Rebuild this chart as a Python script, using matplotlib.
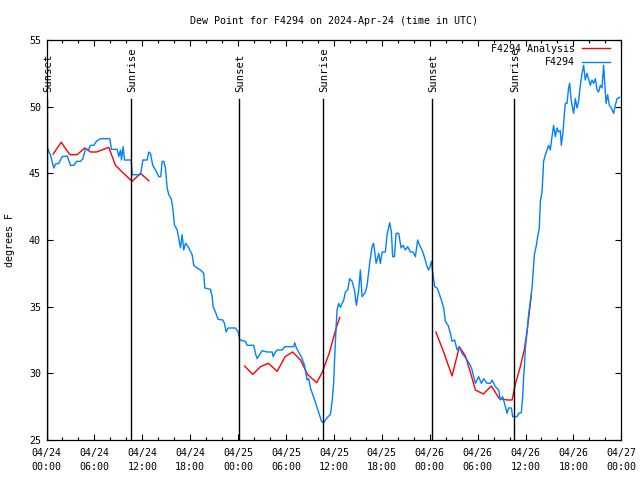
from datetime import datetime, timedelta

import numpy as np
import matplotlib
matplotlib.use("Agg")
import matplotlib.pyplot as plt
import matplotlib.transforms as mtransforms


START = datetime(2024, 4, 24)

# station observations, hours since 2024-04-24 00:00 UTC
obs_hours = [
    0.00, 0.38, 0.50, 0.91, 1.13, 1.54, 1.97, 2.59, 3.01, 3.42, 3.76, 4.26, 4.55, 4.88,
    5.30, 5.51, 5.92, 6.26, 6.76, 7.93, 8.14, 8.85, 9.05, 9.27, 9.39, 9.60, 9.77, 10.61,
    10.73, 11.77, 11.98, 12.06, 12.61, 12.81, 13.02, 13.31, 13.65, 14.06, 14.31, 14.49,
    14.69, 14.90, 15.11, 15.32, 15.62, 15.82, 16.03, 16.15, 16.37, 16.57, 16.78, 16.99,
    17.19, 17.41, 17.62, 17.82, 18.24, 18.45, 18.87, 19.28, 19.70, 19.82, 20.54, 20.75,
    20.87, 21.16, 21.50, 22.08, 22.29, 22.50, 22.75, 23.67, 24.01, 24.21, 24.92, 25.13,
    25.96, 26.17, 26.38, 26.80, 27.01, 27.64, 28.26, 28.39, 28.68, 28.89, 29.51, 29.84,
    30.97, 31.09, 31.30, 31.59, 32.02, 32.31, 32.43, 32.64, 32.84, 33.06, 33.35, 33.60,
    33.90, 34.19, 34.44, 34.72, 34.94, 35.27, 35.56, 35.78, 35.98, 36.10, 36.28, 36.40,
    36.60, 36.81, 37.23, 37.44, 37.73, 37.98, 38.28, 38.57, 38.82, 39.11, 39.32, 39.53,
    39.95, 40.16, 40.48, 40.78, 40.98, 41.29, 41.61, 41.82, 42.04, 42.45, 42.66, 42.99,
    43.20, 43.36, 43.58, 43.79, 44.12, 44.42, 44.67, 44.95, 45.24, 45.58, 45.92, 46.21,
    46.49, 46.74, 47.04, 47.33, 47.67, 47.87, 48.08, 48.21, 48.37, 48.62, 48.92, 49.12,
    49.46, 49.75, 49.96, 50.30, 50.59, 50.80, 51.13, 51.43, 51.72, 52.05, 52.38, 52.68,
    53.09, 53.31, 53.72, 54.13, 54.47, 54.76, 55.19, 55.60, 55.81, 56.22, 56.64, 56.85,
    57.14, 57.48, 57.69, 57.89, 58.23, 58.39, 58.94, 59.14, 59.48, 59.64, 59.77, 59.89,
    59.98, 60.19, 60.39, 60.61, 60.82, 60.94, 61.11, 61.36, 61.52, 61.73, 61.86, 62.07,
    62.15, 62.27, 62.49, 62.70, 62.90, 63.11, 63.32, 63.52, 63.74, 63.95, 64.15, 64.36,
    64.49, 64.70, 64.86, 64.99, 65.20, 65.40, 65.53, 65.70, 65.83, 66.03, 66.24, 66.45,
    66.65, 66.87, 67.08, 67.28, 67.49, 67.70, 67.90, 68.12, 68.33, 68.53, 68.75, 68.96,
    69.16, 69.37, 69.58, 69.78, 69.91, 70.09, 70.29, 70.50, 70.75, 71.04, 71.25, 71.47,
    71.79,
]
obs_dewpt = [
    47.1, 46.5, 46.4, 45.4, 45.7, 45.75, 46.25, 46.3, 45.6, 45.6, 45.9, 45.9, 46.1, 46.8,
    46.8, 47.1, 47.1, 47.4, 47.6, 47.6, 46.8, 46.8, 46.25, 46.75, 46.0, 47.0, 46.0, 46.0,
    44.9, 44.9, 45.6, 46.0, 46.0, 46.6, 46.5, 45.6, 45.25, 44.75, 44.75, 45.9,
    45.9, 45.4, 43.9, 43.4, 43.1, 42.4, 41.1, 41.0, 40.75, 40.1, 39.4, 40.4,
    39.25, 39.75, 39.6, 39.4, 38.9, 38.1, 37.9, 37.75, 37.5, 36.4, 36.3, 35.75,
    35.0, 34.6, 34.05, 34.0, 33.75, 33.1, 33.4, 33.4, 33.1, 32.5, 32.4, 32.1,
    32.1, 31.5, 31.1, 31.5, 31.7, 31.6, 31.6, 31.25, 31.6, 31.75, 31.75, 32.0,
    32.0, 32.3, 31.9, 31.6, 31.1, 30.6, 30.25, 29.5, 29.6, 28.9, 28.4, 28.0,
    27.4, 26.9, 26.4, 26.3, 26.5, 26.75, 26.9, 27.9, 29.4, 31.25, 33.5, 34.75,
    35.25, 34.95, 35.5, 36.1, 36.25, 37.1, 36.9, 36.25, 35.1, 36.25, 37.75, 35.75,
    36.1, 36.6, 38.25, 39.5, 39.75, 38.25, 39.0, 38.25, 39.1, 39.1, 40.4, 41.3,
    40.6, 38.75, 38.75, 40.5, 40.5, 39.4, 39.6, 39.25, 39.5, 39.1, 39.1, 38.75,
    40.0, 39.6, 39.25, 38.75, 38.0, 37.75, 38.1, 38.4, 37.6, 36.5, 36.4, 36.1,
    35.5, 34.9, 33.9, 33.6, 33.0, 32.4, 32.5, 31.75, 32.0, 31.5, 31.25, 31.0,
    30.6, 30.25, 29.25, 29.75, 29.25, 29.6, 29.25, 29.25, 29.5, 29.0, 28.75, 28.0,
    28.25, 27.5, 27.0, 27.4, 27.4, 26.75, 26.75, 27.0, 27.05, 28.25, 29.75, 30.75,
    31.9, 33.1, 34.4, 35.4, 36.4, 37.4, 38.9, 39.6, 40.25, 40.9, 42.9, 43.6,
    44.5, 45.9, 46.4, 46.75, 47.1, 46.75, 47.75, 48.6, 47.75, 48.4, 48.1, 48.2,
    47.1, 48.1, 49.4, 50.25, 50.25, 51.4, 51.75, 50.6, 50.1, 49.5, 50.6, 49.9,
    50.4, 51.6, 52.5, 53.1, 52.0, 52.5, 52.1, 51.6, 52.0, 51.75, 52.1, 51.25,
    51.1, 51.6, 51.4, 53.1, 51.9, 50.25, 50.9, 50.1, 49.9, 49.5, 50.1, 50.6,
    50.7,
]

# analysis values, three separate runs
anl1_hours = [0.84, 1.84, 2.92, 3.84, 4.80, 5.51, 6.26, 7.80, 8.64, 9.48, 10.73, 11.77, 12.81]
anl1_dewpt = [46.45, 47.33, 46.4, 46.4, 46.9, 46.6, 46.6, 46.95, 45.6, 45.1, 44.4, 45.0, 44.45]

anl2_hours = [24.82, 25.83, 26.80, 27.80, 28.89, 29.89, 30.84, 31.81, 32.72, 33.85, 34.52, 35.44, 36.19, 36.73]
anl2_dewpt = [30.55, 29.92, 30.5, 30.75, 30.15, 31.25, 31.6, 31.0, 29.9, 29.3, 30.05, 31.55, 33.2, 34.2]

anl3_hours = [48.77, 49.75, 50.80, 51.72, 52.47, 53.09, 53.72, 54.72, 55.72, 56.72, 57.76, 58.32,
              58.73, 59.35, 59.86, 60.23, 60.73]
anl3_dewpt = [33.1, 31.6, 29.8, 32.0, 31.3, 30.1, 28.75, 28.45, 29.05, 28.1, 28.0, 28.0,
              29.2, 30.5, 31.8, 33.3, 35.9]

sun_hours = [0.05, 10.62, 24.15, 34.6, 48.25, 58.62]
sun_labels = ["Sunset", "Sunrise", "Sunset", "Sunrise", "Sunset", "Sunrise"]

tick_hours = list(range(0, 73, 6))
tick_labels = [(START + timedelta(hours=h)).strftime("%m/%d\n%H:%M") for h in tick_hours]


def plot_dewpoint(save_path):
    plt.rcParams["font.family"] = "DejaVu Sans Mono"
    plt.rcParams["font.size"] = 7.2

    fig = plt.figure(figsize=(6.4, 4.8), dpi=100)
    ax = fig.add_axes([46.5 / 640, 40 / 480, 574.8 / 640, 400 / 480])

    red = "#ff0000"
    blue = "#0080ff"
    ax.plot(anl1_hours, anl1_dewpt, color=red, lw=1.0, label="F4294 Analysis")
    ax.plot(anl2_hours, anl2_dewpt, color=red, lw=1.0)
    ax.plot(anl3_hours, anl3_dewpt, color=red, lw=1.0)
    ax.plot(obs_hours, obs_dewpt, color=blue, lw=1.0, label="F4294")

    trans = mtransforms.blended_transform_factory(ax.transData, ax.transAxes)
    for h, name in zip(sun_hours, sun_labels):
        ax.axvline(h, ymin=0, ymax=0.8525, color="black", lw=1.0)
        ax.text(h + 0.15, 0.87, name, transform=trans, rotation=90,
                ha="center", va="bottom", fontsize=7.6)

    ax.set_xlim(0, 72)
    ax.set_ylim(25, 55)
    ax.set_xticks(tick_hours)
    ax.set_xticklabels(tick_labels)
    for lbl in ax.get_xticklabels():
        lbl.set_linespacing(1.45)
    ax.set_xticks(range(0, 73, 2), minor=True)
    ax.set_yticks(range(25, 56, 5))

    ax.tick_params(which="both", direction="in", top=True, right=True, width=0.8)
    ax.tick_params(which="major", length=4)
    ax.tick_params(which="minor", length=2.2)
    ax.tick_params(axis="x", pad=6)
    ax.tick_params(axis="y", pad=4)
    for sp in ax.spines.values():
        sp.set_linewidth(0.9)

    ax.set_ylabel("degrees F", labelpad=10)
    ax.set_title("Dew Point for F4294 on 2024-Apr-24 (time in UTC)", fontsize=7.2, pad=11.5)

    ax.legend(loc="upper right", bbox_to_anchor=(0.9795, 0.99), markerfirst=False,
              frameon=False, borderaxespad=0, borderpad=0, handlelength=2.8,
              handletextpad=0.7, labelspacing=0.33)

    fig.savefig(save_path, dpi=100)
    plt.close(fig)


plot_dewpoint("out.png")
